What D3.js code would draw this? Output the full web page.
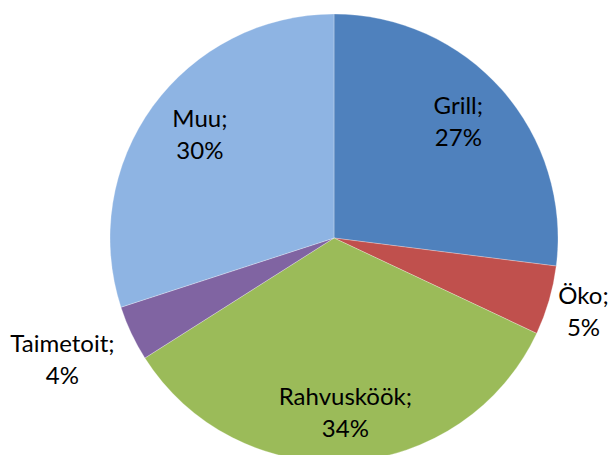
<!DOCTYPE html>
<html>
<head>
<meta charset="utf-8">
<script src="https://cdn.jsdelivr.net/npm/d3@7"></script>
<style>
  body { margin: 0; background: #fff; }
  text { font-family: Lato, "Open Sans", sans-serif; font-size: 24px; fill: #000; }
</style>
</head>
<body>
<div id="chart"></div>
<script>
var svgWidth = 608;
var svgHeight = 455;

// slice data, clockwise from 12 o'clock
var categories = ["Grill", "Öko", "Rahvusköök", "Taimetoit", "Muu"];
var shares = [27, 5, 34, 4, 30];
var colors = ["#4F81BD", "#C0504D", "#9BBB59", "#8064A2", "#8EB4E3"];

var cx = 334, cy = 238, radius = 224;

// label distance from centre, as a fraction of the radius
var labelFactor = { "Öko": 1.16, "Taimetoit": 1.34, "Rahvusköök": 0.81 };
var defaultFactor = 0.74;
var labelNudge = { "Öko": 8 };

var svg = d3.select("#chart")
  .append("svg")
  .attr("width", svgWidth)
  .attr("height", svgHeight);

var chartGroup = svg.append("g")
  .attr("transform", `translate(${cx}, ${cy})`);

var pie = d3.pie().sort(null).value(d => d.value);
var arc = d3.arc().innerRadius(0).outerRadius(radius);

var pieData = pie(categories.map((c, i) => ({ name: c, value: shares[i], color: colors[i] })));

chartGroup.selectAll("path")
  .data(pieData)
  .enter()
  .append("path")
  .attr("d", arc)
  .attr("fill", d => d.data.color)
  .attr("stroke", "rgba(255,255,255,0.45)")
  .attr("stroke-width", 0.6);

var labels = chartGroup.selectAll("text.lbl")
  .data(pieData)
  .enter()
  .append("text")
  .classed("lbl", true)
  .attr("text-anchor", "middle")
  .attr("transform", function(d) {
    var f = labelFactor[d.data.name] || defaultFactor;
    var a = (d.startAngle + d.endAngle) / 2;
    var x = Math.sin(a) * radius * f;
    var y = -Math.cos(a) * radius * f + (labelNudge[d.data.name] || 0);
    return `translate(${x}, ${y})`;
  });

labels.append("tspan")
  .attr("x", 0)
  .attr("y", -14)
  .text(d => d.data.name + ";");

labels.append("tspan")
  .attr("x", 0)
  .attr("y", 18)
  .text(d => d.data.value + "%");
</script>
</body>
</html>
